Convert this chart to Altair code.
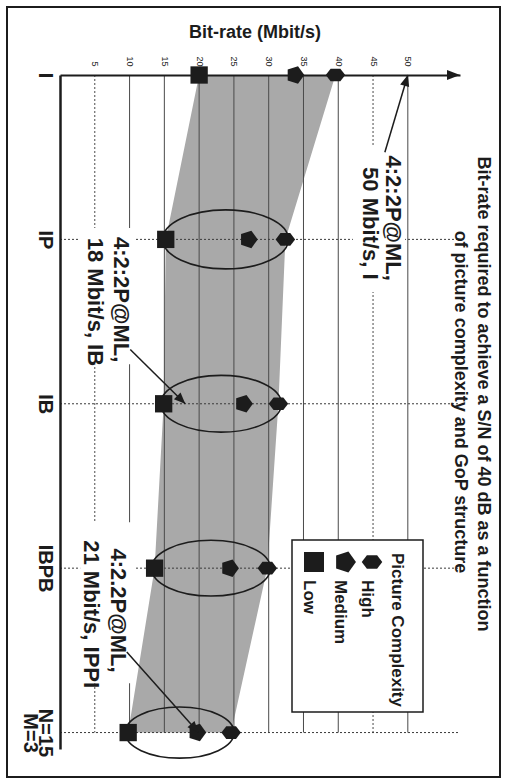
import json
import math
import altair as alt
import pandas as pd

# ---------------- data ----------------
categories = ["I", "IP", "IB", "IBPB", "N=15 M=3"]
category_labels = [["I"], ["IP"], ["IB"], ["IBPB"], ["N=15", "M=3"]]
complexity = ["High", "Medium", "Low"]
high = [39.6, 32.4, 31.4, 29.8, 24.6]
medium = [33.8, 27.1, 26.4, 24.4, 19.7]
low = [20.0, 15.2, 14.9, 13.6, 9.8]
rate_ticks = [5, 10, 15, 20, 25, 30, 35, 40, 45, 50]
grid_solid = [10, 15, 20, 25, 30, 35, 40, 50]
grid_dotted = [5, 45]

# annotations (text lines placed in chart units: bit-rate, GoP position)
ann_text = ["4:2:2P@ML,", "50 Mbit/s, I", "4:2:2P@ML,", "18 Mbit/s, IB",
            "4:2.2P@ML,", "21 Mbit/s, IPPI"]
ann_rate = [47.9, 44.6, 8.8, 5.0, 8.3, 4.4]
ann_pos = [0.49, 0.56, 0.985, 0.99, 2.88, 2.83]
# white boxes behind the annotation blocks (rate from/to, position from/to)
box_r1 = [42.1, 2.6, 2.9]
box_r2 = [49.6, 10.8, 10.9]
box_p1 = [0.43, 0.93, 2.72]
box_p2 = [1.32, 1.76, 3.70]
arrow_tail_rate = [46.7, 10.1, 9.6]
arrow_tail_pos = [0.47, 1.67, 3.51]
arrow_head_rate = [50, 18, 19.9]
arrow_head_pos = [0.0, 2, 4]

title_lines = ["Bit-rate required to achieve a S/N of 40 dB as a function",
               "of picture complexity and GoP structure"]
axis_title = "Bit-rate (Mbit/s)"
legend_title = "Picture Complexity"

# ---------------- layout / style ----------------
W, H = 400, 674
XMAX, YMAX = 57.5, 4.1
FONT = "Liberation Sans"
INK = "#1c1c1c"

xs = alt.Scale(domain=[0, XMAX], nice=False, zero=False)
ys = alt.Scale(domain=[0, YMAX], reverse=True, nice=False, zero=False)

hex_path = "M -1 0 L -0.5 -0.65 L 0.5 -0.65 L 1 0 L 0.5 0.65 L -0.5 0.65 Z"
pent_path = "M 1 0 L 0.31 0.95 L -0.81 0.59 L -0.81 -0.59 L 0.31 -0.95 Z"
ell_path = ("M -1 0 C -1 -0.26 -0.552 -0.47 0 -0.47 C 0.552 -0.47 1 -0.26 1 0 "
            "C 1 0.26 0.552 0.47 0 0.47 C -0.552 0.47 -1 0.26 -1 0 Z")
head_path = "M 0 0 L 0.42 1 L -0.42 1 Z"
axis_head_path = "M 0 0 L -1 -0.38 L -1 0.38 Z"
shape_range = [hex_path, pent_path, "square"]
size_range = [380, 300, 230]

pts = pd.DataFrame([
    {"cat": c, "pos": i, "Complexity": k, "rate": vals[i]}
    for i, c in enumerate(categories)
    for k, vals in zip(complexity, [high, medium, low])
])
band_df = pd.DataFrame({"pos": list(range(len(categories))), "Low": low, "High": high})
ell_df = band_df.iloc[1:].reset_index(drop=True)
one = pd.DataFrame({"k": [0]})

xaxis = alt.Axis(orient="top", values=rate_ticks, labelAngle=90, labelAlign="right",
                 labelBaseline="middle", labelPadding=9, labelFontSize=9, labelFont=FONT,
                 labelColor=INK, ticks=False, grid=False, domainColor=INK, domainWidth=2,
                 title=None, labelFlush=False, labelOverlap=False, zindex=1, format="d")
yaxis = alt.Axis(orient="left", values=list(range(len(categories))),
                 labelExpr=json.dumps(category_labels) + "[datum.value]",
                 labelAngle=90, labelAlign="center", labelBaseline="top", labelPadding=6,
                 labelFontSize=20, labelFont=FONT, labelFontWeight="bold", labelColor=INK,
                 labelLineHeight=15, ticks=False, grid=False, domainColor=INK,
                 domainWidth=2.5, title=None, labelFlush=False, labelOverlap=False, zindex=1)


def X(field):
    return alt.X(field, scale=xs, axis=xaxis)


def Y(field):
    return alt.Y(field, scale=ys, axis=yaxis)


frame = alt.Chart(one).mark_rect(fillOpacity=0, stroke=INK, strokeWidth=2).encode(
    x=alt.value(-53), x2=alt.value(440), y=alt.value(-68), y2=alt.value(702))

band = alt.Chart(band_df).mark_area(orient="horizontal", color="#a9a9a9").encode(
    y=Y("pos:Q"), x=X("Low:Q"), x2="High:Q")

grid_s = alt.Chart(pd.DataFrame({"v": grid_solid})).mark_rule(
    color="#4a4a4a", strokeWidth=1).encode(
    x=X("v:Q"), y=alt.YDatum(0, scale=ys, axis=yaxis), y2=alt.Y2Datum(4))
grid_d = alt.Chart(pd.DataFrame({"v": grid_dotted})).mark_rule(
    color="#4a4a4a", strokeWidth=1, strokeDash=[2, 2]).encode(
    x=X("v:Q"), y=alt.YDatum(0, scale=ys, axis=yaxis), y2=alt.Y2Datum(4))
grid_h = alt.Chart(band_df.iloc[1:]).mark_rule(
    color="#3a3a3a", strokeWidth=1, strokeDash=[2, 2]).encode(
    y=Y("pos:Q"), x=alt.value(0), x2=alt.value(W))

box_df = pd.DataFrame({"r1": box_r1, "r2": box_r2, "p1": box_p1, "p2": box_p2})
boxes = alt.Chart(box_df).mark_rect(fill="white", strokeWidth=0).encode(
    x=X("r1:Q"), x2="r2:Q", y=Y("p1:Q"), y2="p2:Q")

ellipses = alt.Chart(ell_df).transform_calculate(
    mid="(datum.Low + datum.High) / 2",
    esize=f"pow((datum.High - datum.Low) * {W / XMAX} + 6, 2)",
).mark_point(shape=ell_path, filled=False, stroke=INK, strokeWidth=1.6, opacity=1).encode(
    x=X("mid:Q"), y=Y("pos:Q"),
    size=alt.Size("esize:Q", scale=None, legend=None))

points = alt.Chart(pts).mark_point(filled=True, opacity=1, color=INK).encode(
    x=X("rate:Q"), y=Y("pos:Q"),
    shape=alt.Shape("Complexity:N", scale=alt.Scale(domain=complexity, range=shape_range),
                    legend=None),
    size=alt.Size("Complexity:N", scale=alt.Scale(domain=complexity, range=size_range),
                  legend=None))

axis_arrow = alt.Chart(one).mark_point(shape=axis_head_path, filled=True, opacity=1,
                                       color=INK, size=676).encode(
    x=alt.value(W), y=alt.value(0))

ann_df = pd.DataFrame({"t": ann_text, "r": ann_rate, "p": ann_pos})
ann = alt.Chart(ann_df).mark_text(angle=90, align="left", baseline="middle", font=FONT,
                                  fontSize=22, fontWeight="bold", color=INK).encode(
    x=X("r:Q"), y=Y("p:Q"), text="t:N")

arr_df = pd.DataFrame({"tr": arrow_tail_rate, "tp": arrow_tail_pos,
                       "hr": arrow_head_rate, "hp": arrow_head_pos})


def _ang(row):
    dx = (row.hr - row.tr) * W / XMAX
    dy = (row.hp - row.tp) * H / YMAX
    return math.degrees(math.atan2(dx, -dy)) % 360


arr_df["ang"] = arr_df.apply(_ang, axis=1)
arrows = alt.Chart(arr_df).mark_rule(color=INK, strokeWidth=1.5).encode(
    x=X("tr:Q"), x2="hr:Q", y=Y("tp:Q"), y2="hp:Q")
heads = alt.Chart(arr_df).mark_point(shape=head_path, filled=True, opacity=1, color=INK,
                                     size=500).encode(
    x=X("hr:Q"), y=Y("hp:Q"), angle=alt.Angle("ang:Q", scale=None))

# legend (drawn by hand because the whole figure is rotated)
leg_box = alt.Chart(one).mark_rect(fill="white", stroke=INK, strokeWidth=1.5).encode(
    x=alt.value(232), x2=alt.value(363), y=alt.value(465), y2=alt.value(637))
leg_title = alt.Chart(one).mark_text(angle=90, align="left", baseline="middle", font=FONT,
                                     fontSize=17, fontWeight="bold", color=INK,
                                     text=legend_title).encode(
    x=alt.value(337), y=alt.value(478))
leg_layers = []
leg_sym_x = [312, 285, 254]
leg_sizes = [420, 480, 400]
for i, name in enumerate(complexity):
    leg_layers.append(alt.Chart(one).mark_point(shape=shape_range[i], filled=True, opacity=1,
                                                color=INK, size=leg_sizes[i]).encode(
        x=alt.value(leg_sym_x[i]), y=alt.value(487)))
    leg_layers.append(alt.Chart(one).mark_text(angle=90, align="left", baseline="middle",
                                               font=FONT, fontSize=17, fontWeight="bold",
                                               color=INK, text=name).encode(
        x=alt.value(leg_sym_x[i] - 5), y=alt.value(505)))

titles = []
for tx, ty, line in zip([423, 400], [319, 327], title_lines):
    titles.append(alt.Chart(one).mark_text(angle=90, align="center", baseline="middle",
                                           font=FONT, fontSize=18, fontWeight="bold",
                                           color=INK, text=line).encode(
        x=alt.value(tx), y=alt.value(ty)))
xtitle = alt.Chart(one).mark_text(align="center", baseline="middle", font=FONT, fontSize=18,
                                  fontWeight="bold", color=INK, text=axis_title).encode(
    x=alt.value(195), y=alt.value(-42))

chart = alt.layer(
    frame, band, grid_s, grid_d, grid_h, boxes, ellipses, points, axis_arrow,
    arrows, heads, ann, leg_box, leg_title, *leg_layers, *titles, xtitle,
).properties(
    width=W, height=H,
    autosize=alt.AutoSizeParams(type="none"),
    padding={"left": 60, "top": 75, "right": 46, "bottom": 34},
    background="white",
).configure_view(strokeWidth=0)

chart.save("out.html", embed_options={"renderer": "svg", "actions": False})
